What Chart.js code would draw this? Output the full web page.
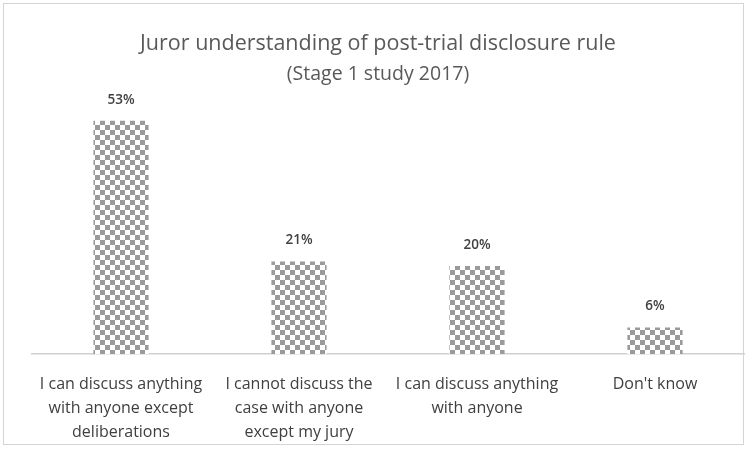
<!DOCTYPE html>
<html lang="en">
<head>
<meta charset="UTF-8">
<script src="https://cdn.jsdelivr.net/npm/chart.js"></script>
<style>
    body { margin: 0; background: #fff; }
    #box { position: absolute; left: 3px; top: 3px; width: 741px; height: 442px; border: 1px solid #d4d4d4; box-sizing: border-box; }
    #wrap { position: absolute; left: 0; top: 0; width: 748px; height: 451px; }
</style>
</head>
<body>
<div id="box"></div>
<div id="wrap"><canvas id="grafico"></canvas></div>
<script>
    var categorias = [
        ['I can discuss anything', 'with anyone except', 'deliberations'],
        ['I cannot discuss the', 'case with anyone', 'except my jury'],
        ['I can discuss anything', 'with anyone'],
        ["Don't know"]
    ];
    var percentuais = [53, 21, 20, 6];
    var tituloLinhas = ['Juror understanding of post-trial disclosure rule', '(Stage 1 study 2017)'];

    // padrão quadriculado das barras
    function xadrez() {
        var c = document.createElement('canvas');
        c.width = 10; c.height = 10;
        var g = c.getContext('2d');
        g.fillStyle = '#ffffff';
        g.fillRect(0, 0, 10, 10);
        g.fillStyle = '#9a9a9a';
        g.fillRect(0, 0, 5, 5);
        g.fillRect(5, 5, 5, 5);
        return g.createPattern(c, 'repeat');
    }

    // título e rótulos de valor desenhados à mão
    var rotulos = {
        id: 'rotulos',
        afterDatasetsDraw: function (chart) {
            var ctx = chart.ctx;
            var meta = chart.getDatasetMeta(0);
            ctx.save();
            ctx.fillStyle = '#595959';
            ctx.textAlign = 'center';
            ctx.textBaseline = 'middle';
            ctx.font = '21.5px "Open Sans"';
            ctx.fillText(tituloLinhas[0], 378, 44);
            ctx.font = '19.5px "Open Sans"';
            ctx.fillText(tituloLinhas[1], 378, 74);

            ctx.font = '600 13.5px "Open Sans"';
            ctx.fillStyle = '#404040';
            meta.data.forEach(function (bar, i) {
                ctx.fillText(percentuais[i] + '%', bar.x, bar.y - 21);
            });
            ctx.restore();
        }
    };

    var ctx = document.getElementById('grafico').getContext('2d');
    new Chart(ctx, {
        type: 'bar',
        data: {
            labels: categorias,
            datasets: [{
                data: percentuais,
                backgroundColor: xadrez(),
                categoryPercentage: 1,
                barPercentage: 0.31
            }]
        },
        options: {
            responsive: true,
            maintainAspectRatio: false,
            animation: false,
            layout: { padding: { left: 32, right: 4, top: 90, bottom: 0 } },
            plugins: {
                legend: { display: false },
                tooltip: { enabled: false },
                title: { display: false }
            },
            scales: {
                x: {
                    grid: { display: false },
                    border: { color: '#d0d0d0', width: 1.5 },
                    afterFit: function (scale) { scale.height = 97; },
                    ticks: {
                        color: '#404040',
                        font: { family: 'Open Sans', size: 16, lineHeight: 1.5 },
                        maxRotation: 0,
                        autoSkip: false,
                        padding: 10
                    }
                },
                y: {
                    display: false,
                    min: 0,
                    max: 60
                }
            }
        },
        plugins: [rotulos]
    });
</script>
</body>
</html>
